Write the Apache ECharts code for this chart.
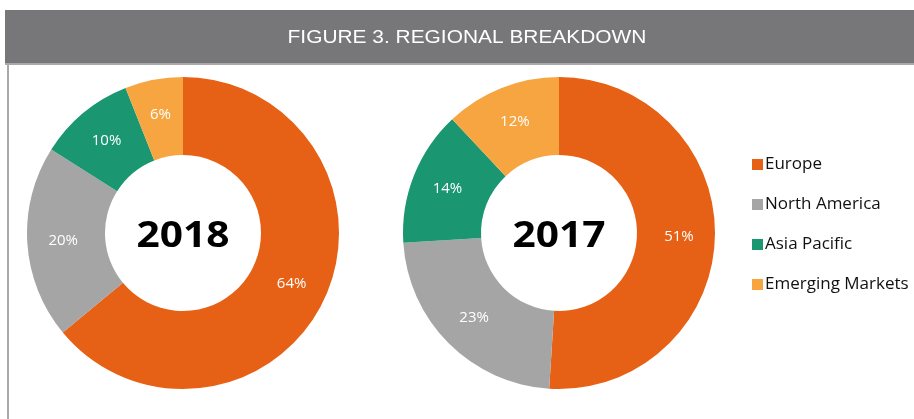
<!DOCTYPE html>
<html>
<head>
<meta charset="utf-8">
<script src="https://cdn.jsdelivr.net/npm/echarts@6/dist/echarts.min.js"></script>
<style>
html,body{margin:0;padding:0;background:#fff;}
#chart{width:914px;height:419px;}
</style>
</head>
<body>
<div id="chart"></div>
<script>
var regions = ['Europe', 'North America', 'Asia Pacific', 'Emerging Markets'];
var colors = ['#e66115', '#a5a5a5', '#1a9670', '#f7a541'];
var values2018 = [64, 20, 10, 6];
var values2017 = [51, 23, 14, 12];
var years = ['2018', '2017'];

var myChart = echarts.init(document.getElementById('chart'));

function ringData(vals){
    var arr = [];
    for (var i = 0; i < vals.length; i++) {
        arr.push({value: vals[i], name: regions[i]});
    }
    return arr;
}

function ring(center, vals){
    return {
        type: 'pie',
        radius: [78, 156],
        center: center,
        startAngle: 90,
        clockwise: true,
        silent: true,
        animation: false,
        label: {
            show: true,
            position: 'inside',
            formatter: '{c}%',
            color: '#fff',
            fontSize: 15,
            fontFamily: 'Open Sans, sans-serif'
        },
        labelLine: {show: false},
        itemStyle: {borderWidth: 0},
        data: ringData(vals)
    };
}

//圆环中间的年份
function yearText(x, txt){
    return {type: 'text', x: x, y: 237, scaleX: 1.13, style: {
        text: txt, fill: '#000', fontSize: 36, fontWeight: 'bold',
        fontFamily: 'Open Sans, sans-serif', align: 'center', verticalAlign: 'middle'
    }};
}

var option = {
    color: colors,
    animation: false,
    graphic: [
        {type: 'rect', shape: {x: 5, y: 10, width: 909, height: 54}, style: {fill: '#77777a'}},
        {type: 'rect', shape: {x: 5, y: 63, width: 909, height: 2}, style: {fill: '#a9a9ab'}},
        {type: 'rect', shape: {x: 7, y: 64, width: 2, height: 355}, style: {fill: '#a9a9ab'}},
        {type: 'text', x: 467, y: 38, scaleX: 1.1, style: {
            text: 'FIGURE 3. REGIONAL BREAKDOWN', fill: '#fff', fontSize: 19,
            fontFamily: 'Liberation Sans, sans-serif', align: 'center', verticalAlign: 'middle'
        }},
        yearText(183, years[0]),
        yearText(559, years[1])
    ],
    legend: {
        orient: 'vertical',
        left: 747,
        top: 151,
        icon: 'rect',
        itemWidth: 11,
        itemHeight: 11,
        itemGap: 23,
        selectedMode: false,
        textStyle: {color: '#111', fontSize: 17, fontFamily: 'Open Sans, sans-serif', padding: [0, 0, 0, -3]},
        data: regions
    },
    series: [
        ring([183, 233], values2018),
        ring([559, 233], values2017)
    ]
};
myChart.setOption(option);
</script>
</body>
</html>
